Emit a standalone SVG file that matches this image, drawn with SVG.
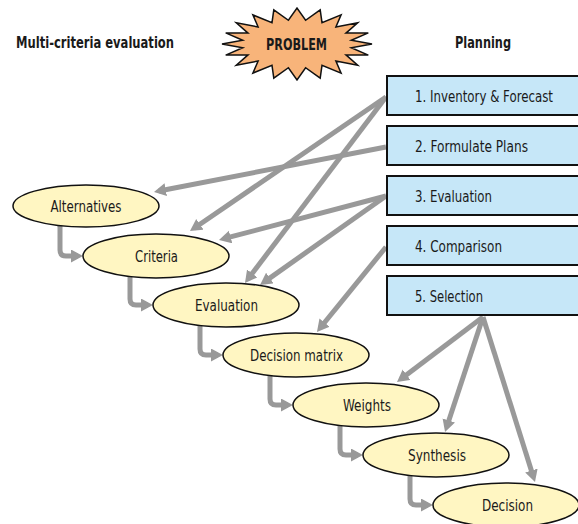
<svg xmlns="http://www.w3.org/2000/svg" width="578" height="524" viewBox="0 0 578 524">
<style>
text{font-family:"DejaVu Sans Condensed","DejaVu Sans","Liberation Sans",sans-serif;font-stretch:condensed;font-size:16px;fill:#1a1a1a}
.title{font-weight:bold}
.box{fill:#c6e7f8;stroke:#111;stroke-width:2}
.ell{fill:#fff6c2;stroke:#111;stroke-width:1.5}
.conn{fill:none;stroke:#999;stroke-width:5;marker-end:url(#ah)}
.mid{text-anchor:middle}
</style>
<defs>
<marker id="ah" markerUnits="userSpaceOnUse" markerWidth="14" markerHeight="14" refX="7" refY="6.5" orient="auto">
<path d="M0,0 L12,6.5 L0,13 z" fill="#999"/>
</marker>
</defs>
<g id="connectors">
<path class="conn" d="M386 97 L194.1 228.2"/>
<path class="conn" d="M386 97 L248 279"/>
<path class="conn" d="M386 147 L158.9 191"/>
<path class="conn" d="M386 196 L223.8 238.7"/>
<path class="conn" d="M386 196 L264.1 282.1"/>
<path class="conn" d="M386 247 L320.1 328"/>
<path class="conn" d="M483 317 L401 379"/>
<path class="conn" d="M483 317 L446.6 427.2"/>
<path class="conn" d="M483 317 L533.5 477.2"/>
<path class="conn" d="M60 224 V250 Q60 256 66 256 H78"/>
<path class="conn" d="M130 274 V299 Q130 305 136 305 H148"/>
<path class="conn" d="M200 323 V349 Q200 355 206 355 H218"/>
<path class="conn" d="M270 373 V399 Q270 405 276 405 H288"/>
<path class="conn" d="M340 423 V449 Q340 455 346 455 H358"/>
<path class="conn" d="M410 473 V499 Q410 505 416 505 H428"/>
</g>
<g id="title-mce"><text class="title" x="16" y="48" textLength="158" lengthAdjust="spacingAndGlyphs">Multi-criteria evaluation</text></g>
<g id="problem">
<polygon points="372,44 351.3,40.2 368.3,32.9 346,33.1 357.7,22.8 335.9,27 341.1,14.9 322,22.6 320.2,9.8 305.6,20.3 297,8 288.4,20.3 273.8,9.8 272,22.6 252.9,14.9 258.1,27 236.3,22.8 248,33.1 225.7,32.9 242.7,40.2 222,44 242.7,47.8 225.7,55.1 248,54.9 236.3,65.2 258.1,61 252.9,73.1 272,65.4 273.8,78.2 288.4,67.7 297,80 305.6,67.7 320.2,78.2 322,65.4 341.1,73.1 335.9,61 357.7,65.2 346,54.9 368.3,55.1 351.3,47.8" fill="#f8b47a" stroke="#111" stroke-width="1.5" stroke-linejoin="miter"/>
<text class="title" x="266" y="49.5" textLength="61" lengthAdjust="spacingAndGlyphs">PROBLEM</text>
</g>
<g id="title-planning"><text class="title" x="455" y="48" textLength="56" lengthAdjust="spacingAndGlyphs">Planning</text></g>
<g id="step1"><rect class="box" x="387" y="76" width="195" height="39"/><text x="415" y="101.5" textLength="138" lengthAdjust="spacingAndGlyphs">1. Inventory &amp; Forecast</text></g>
<g id="step2"><rect class="box" x="387" y="126" width="195" height="39"/><text x="415" y="151.5" textLength="113" lengthAdjust="spacingAndGlyphs">2. Formulate Plans</text></g>
<g id="step3"><rect class="box" x="387" y="176" width="195" height="39"/><text x="415" y="201.5" textLength="77" lengthAdjust="spacingAndGlyphs">3. Evaluation</text></g>
<g id="step4"><rect class="box" x="387" y="226" width="195" height="39"/><text x="415" y="251.5" textLength="87" lengthAdjust="spacingAndGlyphs">4. Comparison</text></g>
<g id="step5"><rect class="box" x="387" y="276" width="195" height="39"/><text x="415" y="301.5" textLength="68" lengthAdjust="spacingAndGlyphs">5. Selection</text></g>
<g id="alternatives"><ellipse class="ell" cx="86" cy="206" rx="73" ry="21"/><text class="mid" x="86" y="212" textLength="71" lengthAdjust="spacingAndGlyphs">Alternatives</text></g>
<g id="criteria"><ellipse class="ell" cx="156" cy="256" rx="73" ry="22"/><text class="mid" x="156.5" y="262" textLength="43" lengthAdjust="spacingAndGlyphs">Criteria</text></g>
<g id="evaluation"><ellipse class="ell" cx="226" cy="305" rx="73" ry="22"/><text class="mid" x="226.5" y="311" textLength="63" lengthAdjust="spacingAndGlyphs">Evaluation</text></g>
<g id="decision-matrix"><ellipse class="ell" cx="296" cy="355" rx="73" ry="22"/><text class="mid" x="296.5" y="361" textLength="93" lengthAdjust="spacingAndGlyphs">Decision matrix</text></g>
<g id="weights"><ellipse class="ell" cx="366" cy="405" rx="73" ry="22"/><text class="mid" x="367" y="411" textLength="48" lengthAdjust="spacingAndGlyphs">Weights</text></g>
<g id="synthesis"><ellipse class="ell" cx="436" cy="455" rx="73" ry="22"/><text class="mid" x="437" y="461" textLength="58" lengthAdjust="spacingAndGlyphs">Synthesis</text></g>
<g id="decision"><ellipse class="ell" cx="506" cy="505" rx="73" ry="22"/><text class="mid" x="507.5" y="511" textLength="51" lengthAdjust="spacingAndGlyphs">Decision</text></g>
</svg>
